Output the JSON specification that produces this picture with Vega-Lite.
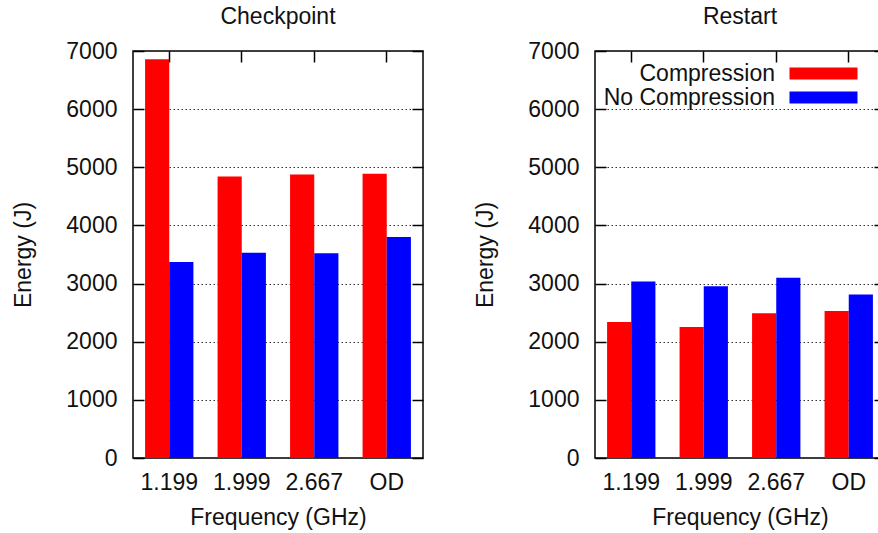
{
  "$schema": "https://vega.github.io/schema/vega-lite/v6.json",
  "padding": {"left": 12, "top": 5, "right": 0, "bottom": 5},
  "bounds": "flush",
  "spacing": 172,
  "config": {
    "font": "Liberation Sans",
    "view": {"stroke": "black", "strokeWidth": 1.5},
    "axis": {"labelFontSize": 23, "titleFontSize": 23, "titleFontWeight": "normal", "labelColor": "#111", "titleColor": "#111", "tickColor": "black", "tickWidth": 1.5, "domain": false},
    "title": {"fontSize": 23, "fontWeight": "normal", "color": "#111"}
  },
  "datasets": {
    "energy": [
      {"panel": "Checkpoint", "freq": "1.199", "series": "Compression", "energy": 6860},
      {"panel": "Checkpoint", "freq": "1.199", "series": "No Compression", "energy": 3370},
      {"panel": "Checkpoint", "freq": "1.999", "series": "Compression", "energy": 4840},
      {"panel": "Checkpoint", "freq": "1.999", "series": "No Compression", "energy": 3530},
      {"panel": "Checkpoint", "freq": "2.667", "series": "Compression", "energy": 4875},
      {"panel": "Checkpoint", "freq": "2.667", "series": "No Compression", "energy": 3520},
      {"panel": "Checkpoint", "freq": "OD", "series": "Compression", "energy": 4890},
      {"panel": "Checkpoint", "freq": "OD", "series": "No Compression", "energy": 3800},
      {"panel": "Restart", "freq": "1.199", "series": "Compression", "energy": 2340},
      {"panel": "Restart", "freq": "1.199", "series": "No Compression", "energy": 3035},
      {"panel": "Restart", "freq": "1.999", "series": "Compression", "energy": 2255},
      {"panel": "Restart", "freq": "1.999", "series": "No Compression", "energy": 2955},
      {"panel": "Restart", "freq": "2.667", "series": "Compression", "energy": 2490},
      {"panel": "Restart", "freq": "2.667", "series": "No Compression", "energy": 3100},
      {"panel": "Restart", "freq": "OD", "series": "Compression", "energy": 2530},
      {"panel": "Restart", "freq": "OD", "series": "No Compression", "energy": 2810}
    ]
  },
  "resolve": {"legend": {"color": "independent"}},
  "hconcat": [
    {
      "title": {"text": "Checkpoint", "baseline": "alphabetic", "offset": -7},
      "width": 290,
      "height": 407,
      "data": {"name": "energy"},
      "transform": [{"filter": "datum.panel === 'Checkpoint'"}],
      "layer": [
        {
          "mark": {"type": "bar"},
          "encoding": {
            "x": {"field": "freq", "type": "nominal", "sort": ["1.199", "1.999", "2.667", "OD"], "scale": {"paddingInner": 0.3333, "paddingOuter": 0.1667},
                  "axis": {"orient": "bottom", "title": "Frequency (GHz)", "labelAngle": 0, "ticks": false, "labelPadding": 13, "titlePadding": 12}},
            "xOffset": {"field": "series", "type": "nominal", "sort": ["Compression", "No Compression"], "scale": {"paddingInner": 0, "paddingOuter": 0}},
            "y": {"field": "energy", "type": "quantitative", "scale": {"domain": [0, 7000], "nice": false},
                  "axis": {"title": "Energy (J)", "format": "d", "values": [0, 1000, 2000, 3000, 4000, 5000, 6000, 7000], "grid": true, "gridDash": [1.5, 2.5], "gridColor": "#333", "gridWidth": 1.2, "tickSize": -11, "labelPadding": 27, "titlePadding": 30}},
            "color": {"field": "series", "type": "nominal", "scale": {"domain": ["Compression", "No Compression"], "range": ["#ff0000", "#0000ff"]}, "legend": null}
          }
        },
        {
          "mark": {"type": "bar", "opacity": 0},
          "encoding": {
            "x": {"field": "freq", "type": "nominal", "sort": ["1.199", "1.999", "2.667", "OD"], "scale": {"paddingInner": 0.3333, "paddingOuter": 0.1667},
                  "axis": {"orient": "top", "title": null, "labels": false, "tickSize": -11}},
            "xOffset": {"field": "series", "type": "nominal", "sort": ["Compression", "No Compression"], "scale": {"paddingInner": 0, "paddingOuter": 0}},
            "y": {"field": "energy", "type": "quantitative", "scale": {"domain": [0, 7000], "nice": false},
                  "axis": {"orient": "right", "title": null, "labels": false, "values": [0, 1000, 2000, 3000, 4000, 5000, 6000, 7000], "grid": false, "tickSize": -11}}
          }
        }
      ],
      "resolve": {"axis": {"x": "independent", "y": "independent"}}
    },
    {
      "title": {"text": "Restart", "baseline": "alphabetic", "offset": -7},
      "width": 290,
      "height": 407,
      "data": {"name": "energy"},
      "transform": [{"filter": "datum.panel === 'Restart'"}],
      "layer": [
        {
          "mark": {"type": "bar"},
          "encoding": {
            "x": {"field": "freq", "type": "nominal", "sort": ["1.199", "1.999", "2.667", "OD"], "scale": {"paddingInner": 0.3333, "paddingOuter": 0.1667},
                  "axis": {"orient": "bottom", "title": "Frequency (GHz)", "labelAngle": 0, "ticks": false, "labelPadding": 13, "titlePadding": 12}},
            "xOffset": {"field": "series", "type": "nominal", "sort": ["Compression", "No Compression"], "scale": {"paddingInner": 0, "paddingOuter": 0}},
            "y": {"field": "energy", "type": "quantitative", "scale": {"domain": [0, 7000], "nice": false},
                  "axis": {"title": "Energy (J)", "format": "d", "values": [0, 1000, 2000, 3000, 4000, 5000, 6000, 7000], "grid": true, "gridDash": [1.5, 2.5], "gridColor": "#333", "gridWidth": 1.2, "tickSize": -11, "labelPadding": 27, "titlePadding": 30}},
            "color": {"field": "series", "type": "nominal", "scale": {"domain": ["Compression", "No Compression"], "range": ["#ff0000", "#0000ff"]},
                      "legend": {"orient": "none", "legendX": 217, "legendY": 11, "title": null, "symbolType": "M-5.667,-1H5.667V1H-5.667Z", "symbolSize": 144, "symbolOpacity": 1, "symbolStrokeWidth": 0, "labelFontSize": 23, "labelColor": "#111", "labelAlign": "right", "labelOffset": -60, "labelLimit": 400, "rowPadding": 0, "padding": 0}}
          }
        },
        {
          "mark": {"type": "bar", "opacity": 0},
          "encoding": {
            "x": {"field": "freq", "type": "nominal", "sort": ["1.199", "1.999", "2.667", "OD"], "scale": {"paddingInner": 0.3333, "paddingOuter": 0.1667},
                  "axis": {"orient": "top", "title": null, "labels": false, "tickSize": -11}},
            "xOffset": {"field": "series", "type": "nominal", "sort": ["Compression", "No Compression"], "scale": {"paddingInner": 0, "paddingOuter": 0}},
            "y": {"field": "energy", "type": "quantitative", "scale": {"domain": [0, 7000], "nice": false},
                  "axis": {"orient": "right", "title": null, "labels": false, "values": [0, 1000, 2000, 3000, 4000, 5000, 6000, 7000], "grid": false, "tickSize": -11}}
          }
        }
      ],
      "resolve": {"axis": {"x": "independent", "y": "independent"}}
    }
  ]
}
